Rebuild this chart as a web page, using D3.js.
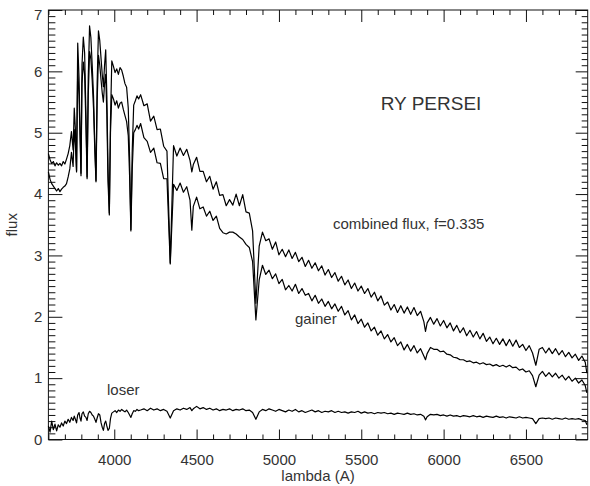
<!DOCTYPE html>
<html>
<head>
<meta charset="utf-8">
<script src="https://cdn.jsdelivr.net/npm/d3@7"></script>
<style>
  body { margin: 0; background: #fff; }
  text { font-family: "Liberation Sans", Arial, sans-serif; fill: #333; }
</style>
</head>
<body>
<div id="chart"></div>
<script>
// wavelength grid (Angstrom)
const lambda = [
  3600, 3610, 3620, 3630, 3640, 3650, 3660, 3670, 3680, 3690,
  3700, 3710, 3720, 3730, 3740, 3750, 3757, 3764, 3771, 3778,
  3786, 3792, 3798, 3804, 3812, 3820, 3828, 3835, 3842, 3850,
  3858, 3866, 3874, 3882, 3889, 3896, 3904, 3912, 3920, 3927,
  3934, 3941, 3948, 3955, 3962, 3970, 3977, 3985, 3995, 4005,
  4015, 4025, 4035, 4045, 4055, 4065, 4075, 4085, 4093, 4101,
  4109, 4118, 4128, 4138, 4148,
  4160, 4180, 4200, 4220, 4240, 4260, 4280, 4300, 4320, 4340,
  4360, 4380, 4400, 4420, 4440, 4460, 4471, 4480, 4500, 4520,
  4540, 4560, 4580, 4600, 4620, 4640, 4660, 4680, 4700, 4720,
  4740, 4760, 4780, 4800, 4820, 4840, 4860, 4880, 4900, 4920,
  4940, 4960, 4980, 5000, 5020, 5040, 5060, 5080, 5100, 5120,
  5140, 5160, 5180, 5200, 5220, 5240, 5260, 5280, 5300, 5320,
  5340, 5360, 5380, 5400, 5420, 5440, 5460, 5480, 5500, 5520,
  5540, 5560, 5580, 5600, 5620, 5640, 5660, 5680, 5700, 5720,
  5740, 5760, 5780, 5800, 5820, 5840, 5860, 5880, 5890, 5900,
  5920, 5940, 5960, 5980, 6000, 6020, 6040, 6060, 6080, 6100,
  6120, 6140, 6160, 6180, 6200, 6220, 6240, 6260, 6280, 6300,
  6320, 6340, 6360, 6380, 6400, 6420, 6440, 6460, 6480, 6500,
  6520, 6540, 6560, 6580, 6600, 6620, 6640, 6660, 6680, 6700,
  6720, 6740, 6760, 6780, 6800, 6820, 6840, 6860, 6870
];

// combined flux, f=0.335
const combined = [
  4.66, 4.56, 4.50, 4.53, 4.46, 4.51, 4.47, 4.50, 4.46, 4.53,
  4.49, 4.57, 4.66, 4.79, 5.02, 4.72, 5.40, 5.05, 4.38, 6.46,
  5.90, 5.10, 4.34, 6.10, 6.56, 6.30, 5.30, 4.28, 5.90, 6.74,
  6.55, 6.10, 5.60, 4.80, 4.22, 5.80, 6.66, 6.50, 6.20, 5.95,
  5.75, 6.10, 6.35, 5.60, 4.40, 3.69, 5.20, 6.17, 6.08, 5.98,
  6.04, 5.95, 6.06, 6.02, 5.92, 5.80, 5.74, 5.40, 4.60, 3.42,
  4.70, 5.45, 5.52, 5.60, 5.55,
  5.62, 5.44, 5.47, 5.19, 5.27, 5.05, 5.06, 4.78, 4.70, 2.88,
  4.79, 4.62, 4.75, 4.63, 4.73, 4.55, 4.36, 4.48, 4.60, 4.37,
  4.37, 4.20, 4.29, 4.08, 4.20, 3.98, 3.99, 3.81, 3.91, 3.82,
  4.00, 3.81, 3.99, 3.71, 3.69, 3.40, 2.22, 3.15, 3.38, 3.24,
  3.27, 3.10, 3.22, 3.01, 3.10, 2.98, 3.09, 2.95, 3.05, 2.90,
  2.97, 2.82, 2.92, 2.79, 2.88, 2.75, 2.83, 2.68, 2.77, 2.64,
  2.72, 2.58, 2.66, 2.52, 2.60, 2.46, 2.55, 2.42, 2.50, 2.38,
  2.46, 2.32, 2.40, 2.26, 2.34, 2.19, 2.24, 2.11, 2.20, 2.07,
  2.18, 2.06, 2.16, 2.04, 2.15, 2.02, 2.09, 1.92, 1.76, 1.90,
  1.99, 1.88, 1.97, 1.85, 1.94, 1.82, 1.90, 1.77, 1.86, 1.74,
  1.82, 1.69, 1.78, 1.67, 1.76, 1.64, 1.73, 1.60, 1.67, 1.56,
  1.65, 1.55, 1.64, 1.53, 1.63, 1.52, 1.62, 1.50, 1.55, 1.45,
  1.53, 1.41, 1.21, 1.47, 1.50, 1.41, 1.49, 1.40, 1.48, 1.38,
  1.45, 1.35, 1.42, 1.33, 1.39, 1.29, 1.36, 1.26, 1.08
];

const gainer = [
  4.36, 4.24, 4.17, 4.13, 4.09, 4.05, 4.09, 4.04, 4.08, 4.11,
  4.13, 4.17, 4.28, 4.41, 4.68, 4.45, 5.05, 4.80, 4.36, 6.05,
  5.60, 4.95, 4.30, 5.80, 6.15, 5.95, 5.10, 4.25, 5.60, 6.32,
  6.20, 5.85, 5.40, 4.70, 4.20, 5.50, 6.26, 6.10, 5.85, 5.65,
  5.50, 5.80, 5.95, 5.30, 4.20, 3.66, 5.00, 5.62, 5.55, 5.45,
  5.52, 5.40, 5.48, 5.50, 5.38, 5.28, 5.18, 4.95, 4.30, 3.40,
  4.40, 5.00, 5.05, 5.12, 5.06,
  5.15, 4.92, 4.86, 4.68, 4.75, 4.51, 4.50, 4.25, 4.25, 2.86,
  4.16, 4.06, 4.18, 4.03, 4.12, 3.90, 3.41, 3.80, 3.95, 3.76,
  3.79, 3.64, 3.72, 3.57, 3.64, 3.44, 3.37, 3.35, 3.38, 3.38,
  3.35, 3.30, 3.26, 3.18, 3.13, 2.90, 1.95, 2.60, 2.84, 2.69,
  2.76, 2.62, 2.70, 2.54, 2.61, 2.44, 2.51, 2.42, 2.53, 2.38,
  2.46, 2.35, 2.38, 2.26, 2.35, 2.22, 2.29, 2.17, 2.25, 2.13,
  2.21, 2.09, 2.17, 2.03, 2.10, 1.95, 2.03, 1.89, 1.96, 1.83,
  1.90, 1.77, 1.83, 1.70, 1.77, 1.64, 1.71, 1.59, 1.66, 1.53,
  1.59, 1.46, 1.55, 1.44, 1.53, 1.41, 1.48, 1.36, 1.30, 1.40,
  1.50, 1.47, 1.47, 1.43, 1.44, 1.39, 1.38, 1.34, 1.33, 1.30,
  1.30, 1.27, 1.28, 1.25, 1.26, 1.23, 1.25, 1.22, 1.23, 1.20,
  1.22, 1.19, 1.21, 1.18, 1.21, 1.17, 1.18, 1.13, 1.15, 1.10,
  1.12, 1.04, 0.86, 1.05, 1.11, 1.03, 1.09, 1.02, 1.08, 1.00,
  1.05, 0.97, 1.03, 0.95, 1.00, 0.92, 0.97, 0.88, 0.76
];

const loser = [
  0.22, 0.12, 0.30, 0.16, 0.25, 0.14, 0.24, 0.20, 0.27, 0.22,
  0.30, 0.26, 0.33, 0.28, 0.36, 0.31, 0.38, 0.33, 0.27, 0.40,
  0.44, 0.35, 0.30, 0.42, 0.45, 0.38, 0.36, 0.31, 0.42, 0.46,
  0.44, 0.40, 0.38, 0.33, 0.28, 0.35, 0.42, 0.40, 0.27, 0.20,
  0.15, 0.26, 0.30, 0.22, 0.15, 0.18, 0.34, 0.43, 0.45, 0.47,
  0.44, 0.48, 0.46, 0.49, 0.47, 0.45, 0.48, 0.44, 0.40, 0.36,
  0.42, 0.47, 0.46, 0.49, 0.47,
  0.48, 0.50, 0.47, 0.51, 0.48, 0.50, 0.47, 0.49, 0.46, 0.35,
  0.47, 0.50, 0.48, 0.51, 0.49, 0.52, 0.47, 0.50, 0.54, 0.50,
  0.52, 0.49, 0.51, 0.48, 0.50, 0.47, 0.49, 0.48, 0.50, 0.47,
  0.49, 0.48, 0.50, 0.47, 0.48, 0.44, 0.33, 0.45, 0.49, 0.47,
  0.50, 0.48, 0.46, 0.49, 0.47, 0.45, 0.48, 0.46, 0.49, 0.45,
  0.47, 0.44, 0.46, 0.48, 0.45, 0.47, 0.44, 0.46, 0.45, 0.47,
  0.44, 0.46, 0.44, 0.45, 0.43, 0.45, 0.44, 0.46, 0.43, 0.45,
  0.43, 0.44, 0.42, 0.44, 0.43, 0.44, 0.42, 0.43, 0.41, 0.43,
  0.42, 0.41, 0.43, 0.41, 0.42, 0.40, 0.41, 0.38, 0.32, 0.37,
  0.41, 0.40, 0.41, 0.39, 0.40, 0.38, 0.40, 0.38, 0.39, 0.37,
  0.39, 0.38, 0.37, 0.39, 0.37, 0.38, 0.36, 0.38, 0.37, 0.36,
  0.38, 0.36, 0.37, 0.35, 0.37, 0.36, 0.35, 0.37, 0.35, 0.36,
  0.35, 0.34, 0.26, 0.34, 0.35, 0.34, 0.35, 0.33, 0.35, 0.34,
  0.33, 0.35, 0.33, 0.34, 0.33, 0.34, 0.32, 0.31, 0.24
];

const xTicks = [4000, 4500, 5000, 5500, 6000, 6500];
const yTicks = [0, 1, 2, 3, 4, 5, 6, 7];

const width = 590, height = 486;
const plotLeft = 48.4, plotRight = 587.7, plotTop = 10, plotBottom = 439.5;

const svg = d3.select("#chart").append("svg")
  .attr("width", width)
  .attr("height", height);

const x = d3.scaleLinear().domain([3600, 6875]).range([plotLeft, plotRight]);
const y = d3.scaleLinear().domain([0, 7]).range([plotBottom, plotTop]);

// minor ticks every 100 A and every 0.1 in flux
const xMinor = d3.range(3600, 6876, 100).filter(v => v % 500 !== 0);
const yMinor = d3.range(0, 70).map(i => i / 10).filter(v => v % 1 !== 0);

function styleAxis(g) {
  g.select(".domain").remove();
  g.selectAll(".tick line").attr("stroke", "#111").attr("stroke-width", 1);
  g.selectAll(".tick text").attr("font-size", 15).attr("fill", "#333")
    .attr("font-family", "Liberation Sans, Arial, sans-serif");
}

// bottom
svg.append("g").attr("transform", `translate(0,${plotBottom})`)
  .call(d3.axisBottom(x).tickValues(xTicks).tickSize(-10).tickPadding(15).tickFormat(d3.format("d")))
  .call(styleAxis);
svg.append("g").attr("transform", `translate(0,${plotBottom})`)
  .call(d3.axisBottom(x).tickValues(xMinor).tickSize(-5).tickFormat(""))
  .call(styleAxis);
// top
svg.append("g").attr("transform", `translate(0,${plotTop})`)
  .call(d3.axisTop(x).tickValues(xTicks).tickSize(-12).tickFormat(""))
  .call(styleAxis);
svg.append("g").attr("transform", `translate(0,${plotTop})`)
  .call(d3.axisTop(x).tickValues(xMinor).tickSize(-5).tickFormat(""))
  .call(styleAxis);
// left
const gl = svg.append("g").attr("transform", `translate(${plotLeft},0)`)
  .call(d3.axisLeft(y).tickValues(yTicks).tickSize(-14).tickPadding(6).tickFormat(d3.format("d")))
  .call(styleAxis);
gl.selectAll(".tick").filter(d => d === 7).select("text").attr("dy", "0.65em");
svg.append("g").attr("transform", `translate(${plotLeft},0)`)
  .call(d3.axisLeft(y).tickValues(yMinor).tickSize(-7).tickFormat(""))
  .call(styleAxis);
// right
svg.append("g").attr("transform", `translate(${plotRight},0)`)
  .call(d3.axisRight(y).tickValues(yTicks).tickSize(-12).tickFormat(""))
  .call(styleAxis);
svg.append("g").attr("transform", `translate(${plotRight},0)`)
  .call(d3.axisRight(y).tickValues(yMinor).tickSize(-6).tickFormat(""))
  .call(styleAxis);

// frame
svg.append("rect")
  .attr("x", plotLeft).attr("y", plotTop)
  .attr("width", plotRight - plotLeft).attr("height", plotBottom - plotTop)
  .attr("fill", "none").attr("stroke", "#111").attr("stroke-width", 1);

// spectra
const line = d3.line()
  .x((d, i) => x(lambda[i]))
  .y(d => y(d));

[combined, gainer, loser].forEach(series => {
  svg.append("path")
    .datum(series)
    .attr("fill", "none")
    .attr("stroke", "#000")
    .attr("stroke-width", 1.2)
    .attr("stroke-linejoin", "round")
    .attr("d", line);
});

// labels
svg.append("text").attr("x", 431).attr("y", 110)
  .attr("text-anchor", "middle").attr("font-size", 19)
  .text("RY PERSEI");
svg.append("text").attr("x", 333).attr("y", 229)
  .attr("font-size", 15).text("combined flux, f=0.335");
svg.append("text").attr("x", 295).attr("y", 324)
  .attr("font-size", 15).text("gainer");
svg.append("text").attr("x", 107).attr("y", 395)
  .attr("font-size", 15).text("loser");

svg.append("text").attr("x", (plotLeft + plotRight) / 2).attr("y", 481)
  .attr("text-anchor", "middle").attr("font-size", 15)
  .text("lambda (A)");
svg.append("text")
  .attr("transform", `translate(17,${(plotTop + plotBottom) / 2}) rotate(-90)`)
  .attr("text-anchor", "middle").attr("font-size", 15)
  .text("flux");
</script>
</body>
</html>
